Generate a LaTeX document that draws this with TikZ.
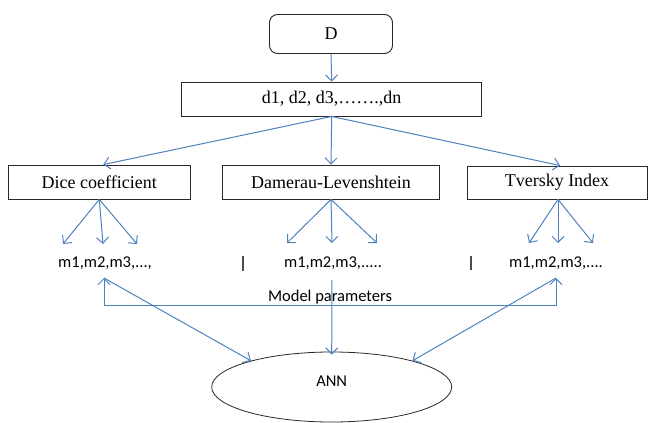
\documentclass[tikz,border=0pt]{standalone}
\usepackage{fontspec}
\setmainfont{Liberation Serif}
\newfontfamily\calib{Carlito}
\usetikzlibrary{arrows.meta,shapes.geometric}

\definecolor{flowblue}{RGB}{79,129,189}
\definecolor{boxline}{RGB}{40,40,40}

\begin{document}
\begin{tikzpicture}[x=1pt,y=-1pt,
  serifbox/.style={draw=boxline,line width=0.9pt,inner sep=0pt,
    font=\fontsize{18}{20}\selectfont},
  mtext/.style={inner sep=0pt,font=\calib\fontsize{16.5}{18}\selectfont},
  barb/.tip={Straight Barb[length=6pt,width=12pt,line width=1pt]},
  flow/.style={draw=flowblue,line width=1pt,-barb},
  twoway/.style={draw=flowblue,line width=1pt,barb-barb},
  divider/.style={draw=black!70,line width=1.2pt}]

\useasboundingbox (0,0) rectangle (649,423);

% top of the hierarchy
\node[serifbox,rounded corners=8pt,minimum width=123pt,minimum height=39pt] (D) at (331,34) {D};
\node[serifbox,minimum width=300pt,minimum height=34pt] (dlist) at (331.7,99) {d1, d2, d3,…….,dn};

% similarity measures
\node[serifbox,minimum width=182.7pt,minimum height=34pt] (dice) at (99.3,182) {Dice coefficient};
\node[serifbox,minimum width=216.6pt,minimum height=34pt] (dam) at (331,182) {Damerau-Levenshtein};
\node[serifbox,minimum width=180pt,minimum height=33pt] (tve) at (557,182.5) {Tversky Index};

% parameter sets
\node[mtext] (mA) at (105,263) {m1,m2,m3,...,};
\node[mtext] (mB) at (333,263) {m1,m2,m3,.....};
\node[mtext] (mC) at (556,263) {m1,m2,m3,....};

\node[mtext] (mp) at (330,297) {Model parameters};

% network
\node[draw=boxline,line width=0.8pt,ellipse,minimum width=240pt,minimum height=70pt,inner sep=0pt] (ann) at (331.7,387) {};
\node[mtext] (annlbl) at (331.7,381) {ANN};

% end points of the parameter arrows
\coordinate (a1) at (63,244);
\coordinate (a2) at (103,244);
\coordinate (a3) at (137,244);
\coordinate (b1) at (287,243);
\coordinate (b2) at (332,243);
\coordinate (b3) at (377,243);
\coordinate (c1) at (529,243);
\coordinate (c2) at (558,243);
\coordinate (c3) at (593,243);
\coordinate (tipL) at (104,278);
\coordinate (tipR) at (556,278);
\coordinate (midtop) at (332,280);

% connectors
\draw[flow] (D.south) -- (dlist.north);
\draw[flow] (dlist.south) -- ([xshift=4pt]dice.north);
\draw[flow] (dlist.south) -- (dam.north);
\draw[flow] (dlist.south) -- ([xshift=3pt]tve.north);

\draw[flow] (dice.south) -- (a1);
\draw[flow] (dice.south) -- (a2);
\draw[flow] (dice.south) -- (a3);
\draw[flow] (dam.south) -- (b1);
\draw[flow] (dam.south) -- (b2);
\draw[flow] (dam.south) -- (b3);
\draw[flow] ([xshift=1pt]tve.south) -- (c1);
\draw[flow] ([xshift=1pt]tve.south) -- (c2);
\draw[flow] ([xshift=1pt]tve.south) -- (c3);

\draw[twoway] (tipL) -- ++(0,27) -| (tipR);

\draw[flow] (tipL) -- (ann.162);
\draw[flow] (tipR) -- (ann.18);
\draw[flow] (midtop) -- ([yshift=-3pt]ann.north);

% separators between the parameter sets
\draw[divider] (243,256) -- (243,271);
\draw[divider] (471,256) -- (471,270);

\end{tikzpicture}
\end{document}
